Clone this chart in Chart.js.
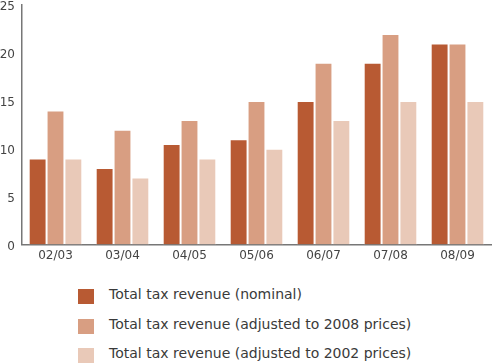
<!DOCTYPE html>
<html>
<head>
<meta charset="utf-8">
<script src="https://cdn.jsdelivr.net/npm/chart.js@4/dist/chart.umd.min.js"></script>
<style>
  body { margin: 0; background: #fff; font-family: "DejaVu Sans", sans-serif; overflow: hidden; }
  #wrap { position: absolute; left: 0; top: -9px; width: 492px; height: 276px; }
  #legend { position: absolute; left: 78px; top: 286px; margin: 0; padding: 0; list-style: none; }
  #legend li { height: 29.5px; display: flex; align-items: flex-start; font-size: 14px; color: #3a3a3a; }
  #legend span { display: inline-block; width: 16px; height: 15px; margin-right: 15px; margin-top: 3px; }
</style>
</head>
<body>
<div id="wrap"><canvas id="myChart"></canvas></div>
<ul id="legend"></ul>
<script>
const labels = ['02/03', '03/04', '04/05', '05/06', '06/07', '07/08', '08/09'];
const nominal = [9, 8, 10.5, 11, 15, 19, 21];
const adjusted2008 = [14, 12, 13, 15, 19, 22, 21];
const adjusted2002 = [9, 7, 9, 10, 13, 15, 15];
const seriesNames = [
  'Total tax revenue (nominal)',
  'Total tax revenue (adjusted to 2008 prices)',
  'Total tax revenue (adjusted to 2002 prices)'
];
const colors = ['#b85a33', '#d89e82', '#e9c9b8'];

const ctx = document.getElementById('myChart').getContext('2d');
const chart = new Chart(ctx, {
  type: 'bar',
  data: {
    labels,
    datasets: [nominal, adjusted2008, adjusted2002].map((d, i) => ({
      label: seriesNames[i],
      data: d,
      backgroundColor: colors[i],
      borderColor: '#ffffff',
      borderWidth: 1,
      borderSkipped: 'bottom',
      categoryPercentage: 0.8,
      barPercentage: 1
    }))
  },
  options: {
    responsive: true,
    maintainAspectRatio: false,
    animation: false,
    layout: { padding: { top: 0, right: 1 } },
    plugins: { legend: { display: false }, tooltip: { enabled: false } },
    scales: {
      x: {
        grid: { display: false, drawTicks: false },
        border: { color: '#777', width: 1.5 },
        ticks: { color: '#444', font: { family: 'DejaVu Sans', size: 12 }, padding: 4 }
      },
      y: {
        min: 0,
        max: 25,
        grid: { display: false, drawTicks: false },
        border: { color: '#777', width: 1.5 },
        ticks: { stepSize: 5, color: '#444', font: { family: 'DejaVu Sans', size: 12 }, padding: 7, labelOffset: 2 },
        afterFit: function (scale) { scale.width = 22; }
      }
    }
  }
});

// legend built from the chart datasets
const legendEl = document.getElementById('legend');
chart.data.datasets.forEach(ds => {
  const li = document.createElement('li');
  const box = document.createElement('span');
  box.style.background = ds.backgroundColor;
  li.appendChild(box);
  li.appendChild(document.createTextNode(ds.label));
  legendEl.appendChild(li);
});
</script>
</body>
</html>
